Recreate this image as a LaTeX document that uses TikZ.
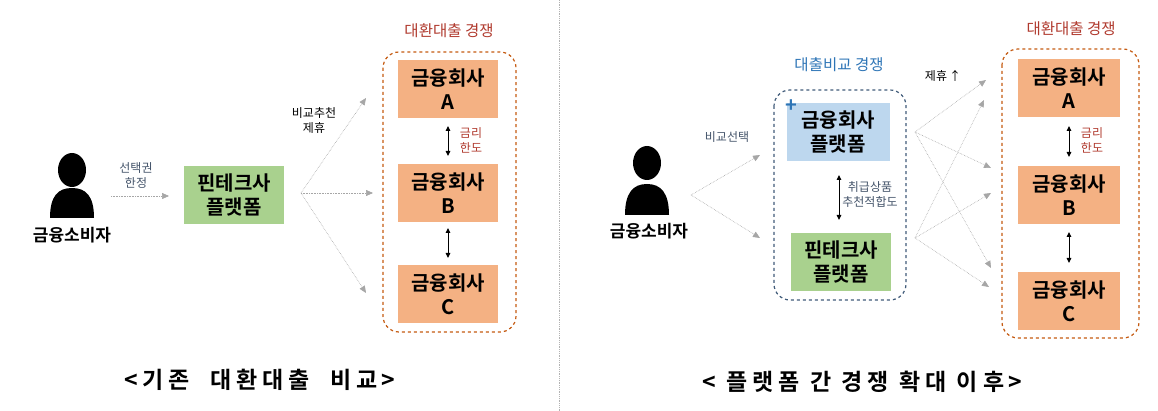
\documentclass[tikz,border=0pt]{standalone}
\usepackage{fontspec}
\setmainfont{Noto Sans CJK KR}
\newfontfamily\kb{Noto Sans CJK KR Bold}
\newfontfamily\kbs[LetterSpace=22]{Noto Sans CJK KR Bold}
\usetikzlibrary{arrows.meta}
\definecolor{orb}{HTML}{F4B183}
\definecolor{grb}{HTML}{A9D18E}
\definecolor{blb}{HTML}{BDD7EE}
\definecolor{dred}{HTML}{B03A2E}
\definecolor{dor}{HTML}{C55A11}
\definecolor{dblue}{HTML}{44546A}
\definecolor{tbl}{HTML}{2E75B6}
\tikzset{
 fbox/.style={fill=orb,minimum width=100pt,minimum height=58pt,align=center,font=\kb\fontsize{20}{24}\selectfont,inner sep=0pt},
 gbox/.style={fill=grb,minimum width=100pt,minimum height=58pt,align=center,font=\kb\fontsize{20}{24}\selectfont,inner sep=0pt},
 bbox/.style={fill=blb,minimum width=103pt,minimum height=58pt,align=center,font=\kb\fontsize{20}{24}\selectfont,inner sep=0pt},
 fan/.style={draw=gray!70,densely dotted,line width=0.6pt,-{Triangle[length=7pt,width=6pt,fill=gray!70]}},
 darr/.style={line width=1pt,{Triangle[length=5pt,width=4.5pt]}-{Triangle[length=5pt,width=4.5pt]}},
 small/.style={font=\fontsize{12}{15}\selectfont,align=center},
 ttl/.style={font=\fontsize{15.5}{18}\selectfont},
 capt/.style={font=\kbs\fontsize{23}{26}\selectfont},
 grp/.style={draw,dashed,line width=1.2pt,rounded corners=16pt},
 lbl/.style={font=\kb\fontsize{17}{19}\selectfont}
}
\begin{document}
\begin{tikzpicture}[x=1pt,y=-1pt]
\useasboundingbox (0,0) rectangle (1158,411);
\draw[gray!60,densely dotted,line width=0.8pt] (559,0) -- (559,411);
% ---------- left ----------
\fill (72,170) ellipse (14 and 17);
\fill (50,218) .. controls (50,196) and (58,188) .. (72,188) .. controls (86,188) and (94,196) .. (94,218) -- cycle;
\node[lbl] (lcons) at (72,235) {금융소비자};
\node[gbox] (lfin) at (234,195) {핀테크사\\플랫폼};
\coordinate (lcr) at (111,196);
\coordinate (lce) at (169,196);
\draw[fan] (lcr) -- (lce);
\node[small,text=dblue] (lsel) at (136,176) {선택권\\한정};
\draw[dor,grp] (383,52) rectangle (516,332);
\node[ttl,text=dred] (lt) at (449,31) {대환대출 경쟁};
\node[fbox] (la) at (448,89) {금융회사\\A};
\node[fbox] (lb) at (448,193) {금융회사\\B};
\node[fbox] (lc) at (448,294) {금융회사\\C};
\coordinate (lo) at (301,193);
\draw[fan] (lo) -- (366,98);
\draw[fan] (lo) -- (373,193);
\draw[fan] (lo) -- (366,293);
\node[small] (lrec) at (314,121) {비교추천\\제휴};
\draw[darr] (448,126) -- (448,156);
\draw[darr] (448,228) -- (448,258);
\node[small,text=dred] (lrate) at (471,140) {금리\\한도};
\node[capt] (lcap) at (260,380) {<\,기존\ \ 대환대출\ \ 비교\,>};
% ---------- right ----------
\fill (647,163) ellipse (14 and 17);
\fill (625,215) .. controls (625,193) and (633,184) .. (647,184) .. controls (661,184) and (669,193) .. (669,215) -- cycle;
\node[lbl] (rcons) at (649,231) {금융소비자};
\node[small,text=dblue] (rsel) at (727,137) {비교선택};
\coordinate (ro) at (691,195);
\draw[fan] (ro) -- (760,155);
\draw[fan] (ro) -- (760,238);
\draw[grp,draw=dblue!80!tbl] (774,90) rectangle (906,300);
\node[ttl,text=tbl] (rt2) at (839,65) {대출비교 경쟁};
\node[bbox] (rplat) at (838,132) {금융회사\\플랫폼};
\node[text=tbl,font=\kb\fontsize{20}{20}\selectfont,inner sep=0] (plus) at (791,106) {+};
\node[gbox] (rfin) at (841,262) {핀테크사\\플랫폼};
\draw[darr] (839,175) -- (839,220);
\node[small,text=dblue] (rlab) at (870,195) {취급상품\\추천적합도};
\draw[dor,grp] (1002,49) rectangle (1139,338);
\node[ttl,text=dred] (rt) at (1071,29) {대환대출 경쟁};
\node[fbox,minimum width=102pt] (ra) at (1069,88) {금융회사\\A};
\node[fbox,minimum width=102pt] (rb) at (1069,195) {금융회사\\B};
\node[fbox,minimum width=102pt] (rc) at (1069,301) {금융회사\\C};
\draw[darr] (1069,126) -- (1069,157);
\draw[darr] (1069,232) -- (1069,263);
\node[small,text=dred] (rrate) at (1092,140) {금리\\한도};
\coordinate (ro1) at (915,132);
\coordinate (ro2) at (915,238);
\draw[fan] (ro1) -- (986,80);
\draw[fan] (ro1) -- (991,168);
\draw[fan] (ro1) -- (991,268);
\draw[fan] (ro2) -- (984,100);
\draw[fan] (ro2) -- (991,193);
\draw[fan] (ro2) -- (989,287);
\node[small] (rup) at (943,76) {제휴\,↑};
\node[capt] (rcap) at (862,382) {<\ 플랫폼\ 간\ 경쟁\ 확대\ 이후\,>};
\end{tikzpicture}
\end{document}
